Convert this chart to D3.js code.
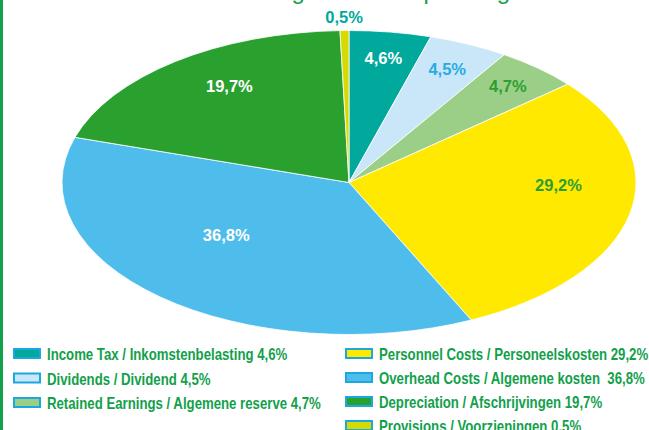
<!DOCTYPE html>
<html>
<head>
<meta charset="utf-8">
<script src="https://cdn.jsdelivr.net/npm/d3@7"></script>
<style>
  body { margin: 0; background: #fff; }
  svg { display: block; }
</style>
</head>
<body>
<div id="chart"></div>
<script>
// slices, clockwise from 12 o'clock
const categories = [
	'Income Tax / Inkomstenbelasting',
	'Dividends / Dividend',
	'Retained Earnings / Algemene reserve',
	'Personnel Costs / Personeelskosten',
	'Overhead Costs / Algemene kosten',
	'Depreciation / Afschrijvingen',
	'Provisions / Voorzieningen'
]
const shares = [4.6, 4.5, 4.7, 29.2, 36.8, 19.7, 0.5]
const sliceLabels = ['4,6%', '4,5%', '4,7%', '29,2%', '36,8%', '19,7%', '0,5%']
const legendLabels = [
	'Income Tax / Inkomstenbelasting 4,6%',
	'Dividends / Dividend 4,5%',
	'Retained Earnings / Algemene reserve 4,7%',
	'Personnel Costs / Personeelskosten 29,2%',
	'Overhead Costs / Algemene kosten  36,8%',
	'Depreciation / Afschrijvingen 19,7%',
	'Provisions / Voorzieningen 0,5%'
]

const colors = ['#00a99c', '#c9e7f8', '#9bcf87', '#ffe900', '#4fbdeb', '#2aa12f', '#d6da00']
const labelColors = ['#fff', '#29abe2', '#2e9e32', '#2e9e32', '#fff', '#fff', '#00a99c']
// label spot as [radius fraction, angle shift in degrees]
const labelSpot = [[0.83, 0], [0.82, 0], [0.84, 0], [0.73, -11], [0.55, 10], [0.76, 4], [1.09, 0]]

const width = 649
const height = 430
const center = { x: 349, y: 182.5 }
const rx = 287
const ry = 152
const green = '#13a04b'

const svg = d3.select('#chart')
	.append('svg')
	.attr('width', width)
	.attr('height', height)

// left border line
svg.append('rect')
	.attr('x', 0).attr('y', 0)
	.attr('width', 3).attr('height', height)
	.attr('fill', green)

// title (runs off the top edge)
svg.append('text')
	.attr('x', 222)
	.attr('y', -1)
	.style('font', '24px "Liberation Sans", Arial, sans-serif')
	.attr('fill', green)
	.text('Earnings and the operating costs')

const data = categories.map((c, i) => ({ name: c, value: shares[i], i: i }))

const pie = d3.pie().sort(null).value(d => d.value)
const arcs = pie(data)

const arc = d3.arc().innerRadius(0).outerRadius(rx)

// draw a circle pie and squash it into an ellipse
const pieG = svg.append('g')
	.attr('transform', `translate(${center.x},${center.y}) scale(1,${ry / rx})`)

pieG.selectAll('path')
	.data(arcs)
	.join('path')
	.attr('d', arc)
	.attr('fill', d => colors[d.data.i])
	.attr('stroke', '#fff')
	.attr('stroke-width', 0.8)
	.attr('vector-effect', 'non-scaling-stroke')

// slice labels
svg.append('g')
	.selectAll('text')
	.data(arcs)
	.join('text')
	.attr('x', d => {
		const s = labelSpot[d.data.i]
		const a = (d.startAngle + d.endAngle) / 2 + s[1] * Math.PI / 180
		return center.x + rx * s[0] * Math.sin(a)
	})
	.attr('y', d => {
		const s = labelSpot[d.data.i]
		const a = (d.startAngle + d.endAngle) / 2 + s[1] * Math.PI / 180
		return center.y - ry * s[0] * Math.cos(a)
	})
	.attr('dy', '0.36em')
	.attr('text-anchor', 'middle')
	.style('font', 'bold 16.5px "Liberation Sans", Arial, sans-serif')
	.attr('fill', d => labelColors[d.data.i])
	.text(d => sliceLabels[d.data.i])

// legend: two columns, condensed text (no narrow font available, so squeeze it)
const legendCols = [
	{ items: [0, 1, 2], x: 13, y: 348, step: 24.5 },
	{ items: [3, 4, 5, 6], x: 345, y: 348, step: 24 }
]

legendCols.forEach(col => {
	const rows = svg.append('g')
		.selectAll('g')
		.data(col.items)
		.join('g')
		.attr('transform', (d, k) => `translate(${col.x},${col.y + k * col.step})`)

	rows.append('rect')
		.attr('x', 1).attr('y', 1)
		.attr('width', 26).attr('height', 9)
		.attr('fill', d => colors[d])
		.attr('stroke', '#1ba8e0')
		.attr('stroke-width', 2)

	rows.append('text')
		.attr('transform', 'translate(34,12) scale(0.8,1)')
		.style('font', 'bold 16.5px "Liberation Sans", Arial, sans-serif')
		.style('white-space', 'pre')
		.attr('fill', green)
		.text(d => legendLabels[d])
})
</script>
</body>
</html>
